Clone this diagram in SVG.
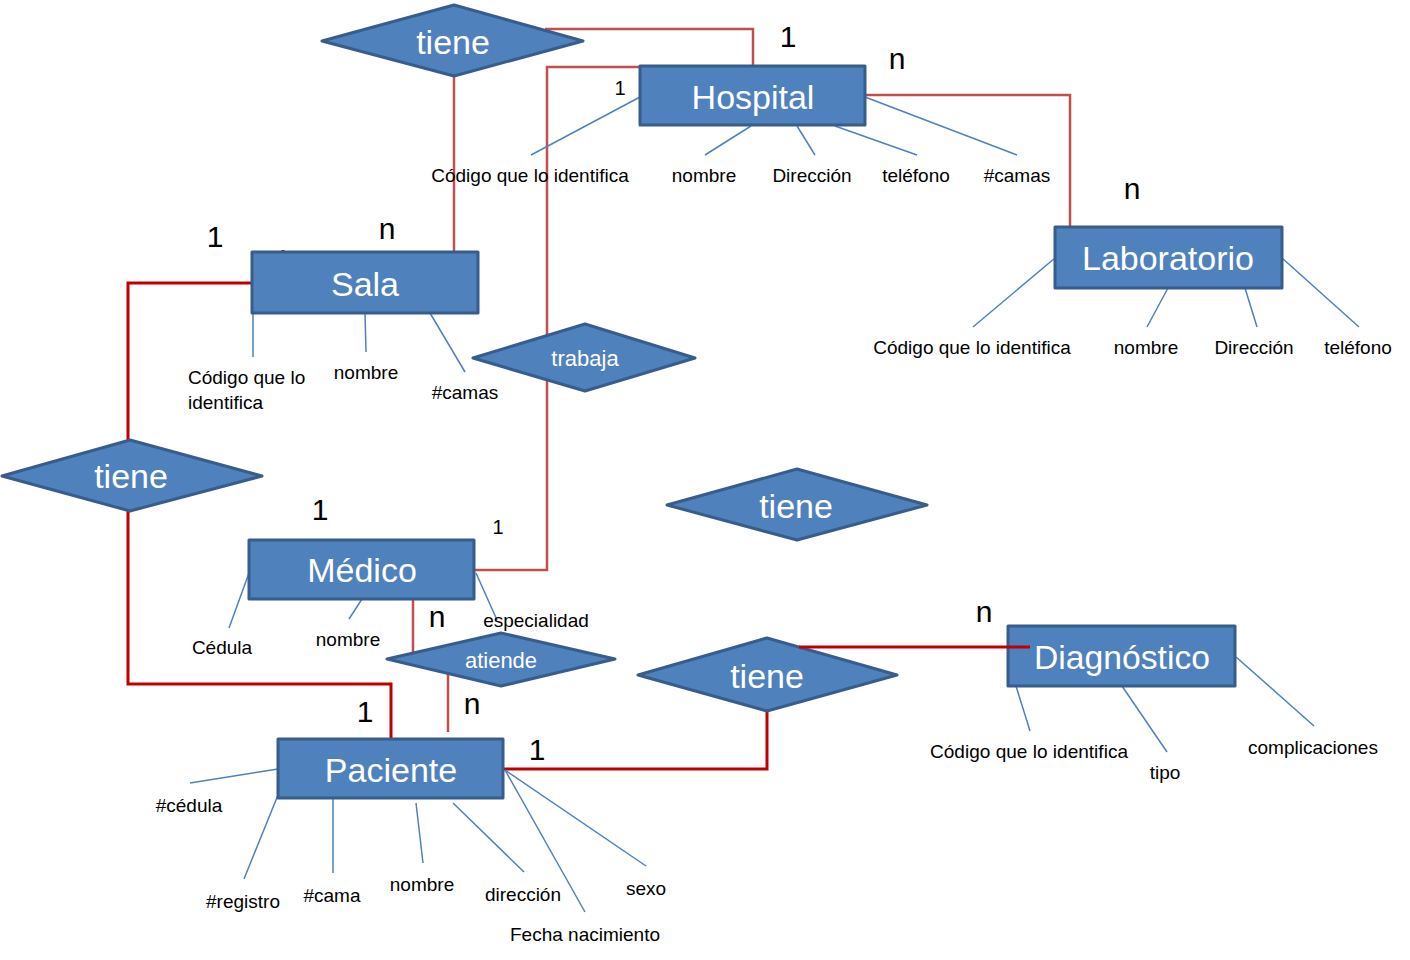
<svg xmlns="http://www.w3.org/2000/svg" width="1410" height="960" viewBox="0 0 1410 960">
<style>
text{font-family:"Liberation Sans",Arial,sans-serif}
.ent rect,.rel polygon{fill:#4F81BD;stroke:#385D8A;stroke-width:3;stroke-linejoin:round}
.lbl{fill:#fff;text-anchor:middle;dominant-baseline:central}
.big{font-size:34px}
.mid{font-size:22px}
.attr line{stroke:#4F81BD;stroke-width:1.5}
.attr text{font-size:19px;fill:#000;text-anchor:middle}
.rl{stroke:#C0504D;stroke-width:2.5;fill:none}
.dr{stroke:#C00000;stroke-width:3;fill:none}
.card{font-size:30px;fill:#000;text-anchor:middle}
.cs{font-size:20px;fill:#000;text-anchor:middle}
</style>
<rect width="1410" height="960" fill="#fff"/>
<g id="connectors">
<polyline class="rl" points="545,29 753,29 753,66"/>
<line class="rl" x1="454" y1="76" x2="454" y2="252"/>
<polyline class="rl" points="640,67 547,67 547,570 475,570"/>
<polyline class="rl" points="865,95 1070,95 1070,227"/>
<polyline class="dr" points="252,283 128,283 128,440"/>
<line class="dr" x1="283" y1="250" x2="283" y2="253"/>
<polyline class="dr" points="128,511 128,684 391,684 391,739"/>
<line class="rl" x1="413" y1="599" x2="413" y2="656"/>
<line class="rl" x1="448" y1="670" x2="448" y2="732"/>
<polyline class="dr" points="503,769 767,769 767,711"/>
</g>
<g id="attributes" class="attr">
<line x1="640" y1="97" x2="531" y2="155"/><text x="530" y="182">Código que lo identifica</text>
<line x1="751" y1="126" x2="705" y2="155"/><text x="704" y="182">nombre</text>
<line x1="797" y1="126" x2="815" y2="155"/><text x="812" y="182">Dirección</text>
<line x1="835" y1="126" x2="917" y2="155"/><text x="916" y="182">teléfono</text>
<line x1="865" y1="97" x2="1017" y2="155"/><text x="1017" y="182">#camas</text>
<line x1="1055" y1="258" x2="973" y2="327"/><text x="972" y="354">Código que lo identifica</text>
<line x1="1168" y1="288" x2="1147" y2="327"/><text x="1146" y="354">nombre</text>
<line x1="1245" y1="288" x2="1257" y2="327"/><text x="1254" y="354">Dirección</text>
<line x1="1282" y1="258" x2="1359" y2="327"/><text x="1358" y="354">teléfono</text>
<line x1="253" y1="313" x2="253" y2="357"/><text x="188" y="384" style="text-anchor:start">Código que lo</text><text x="188" y="409" style="text-anchor:start">identifica</text>
<line x1="365" y1="313" x2="366" y2="352"/><text x="366" y="379">nombre</text>
<line x1="430" y1="313" x2="465" y2="372"/><text x="465" y="399">#camas</text>
<line x1="249" y1="573" x2="229" y2="628"/><text x="222" y="654">Cédula</text>
<line x1="362" y1="599" x2="349" y2="619"/><text x="348" y="646">nombre</text>
<line x1="476" y1="573" x2="497" y2="620"/><text x="536" y="627">especialidad</text>
<line x1="278" y1="769" x2="190" y2="783"/><text x="189" y="812">#cédula</text>
<line x1="278" y1="795" x2="244" y2="879"/><text x="243" y="908">#registro</text>
<line x1="333" y1="799" x2="333" y2="873"/><text x="332" y="902">#cama</text>
<line x1="416" y1="803" x2="423" y2="863"/><text x="422" y="891">nombre</text>
<line x1="453" y1="803" x2="524" y2="872"/><text x="523" y="901">dirección</text>
<line x1="505" y1="770" x2="585" y2="912"/><text x="585" y="941">Fecha nacimiento</text>
<line x1="505" y1="770" x2="646" y2="866"/><text x="646" y="895">sexo</text>
<line x1="1016" y1="686" x2="1030" y2="731"/><text x="1029" y="758" textLength="198" lengthAdjust="spacingAndGlyphs">Código que lo identifica</text>
<line x1="1122" y1="686" x2="1167" y2="752"/><text x="1165" y="779">tipo</text>
<line x1="1236" y1="657" x2="1314" y2="726"/><text x="1313" y="754">complicaciones</text>
</g>
<g id="rel-tiene-top" class="rel"><polygon points="322,41 454,5 583,41 454,76"/><text class="lbl big" x="453" y="42">tiene</text></g>
<g id="rel-tiene-left" class="rel"><polygon points="2,476 130,440 262,476 130,511"/><text class="lbl big" x="131" y="476">tiene</text></g>
<g id="rel-trabaja" class="rel"><polygon points="473,358 585,324 695,358 585,391"/><text class="lbl mid" x="585" y="358">trabaja</text></g>
<g id="rel-tiene-mid" class="rel"><polygon points="667,505 797,469 927,505 797,540"/><text class="lbl big" x="796" y="506">tiene</text></g>
<g id="rel-atiende" class="rel"><polygon points="387,659 501,633 615,659 501,686"/><text class="lbl mid" x="501" y="660">atiende</text></g>
<g id="rel-tiene-bottom" class="rel"><polygon points="638,675 767,638 897,675 767,711"/><text class="lbl big" x="767" y="676">tiene</text></g>
<g id="ent-hospital" class="ent"><rect x="640" y="66" width="225" height="59"/><text class="lbl big" x="753" y="97">Hospital</text></g>
<g id="ent-laboratorio" class="ent"><rect x="1055" y="227" width="227" height="61"/><text class="lbl big" x="1168" y="258">Laboratorio</text></g>
<g id="ent-sala" class="ent"><rect x="252" y="252" width="226" height="61"/><text class="lbl big" x="365" y="284">Sala</text></g>
<g id="ent-medico" class="ent"><rect x="249" y="540" width="225" height="59"/><text class="lbl big" x="362" y="570">Médico</text></g>
<g id="ent-paciente" class="ent"><rect x="278" y="739" width="225" height="59"/><text class="lbl big" x="391" y="770">Paciente</text></g>
<g id="ent-diagnostico" class="ent"><rect x="1008" y="626" width="227" height="60"/><text class="lbl big" x="1122" y="657" textLength="176" lengthAdjust="spacingAndGlyphs">Diagnóstico</text></g>
<g id="connector-diag"><line class="dr" x1="799" y1="647" x2="1030" y2="647"/></g>
<g id="cardinalities">
<text class="card" x="788" y="47">1</text>
<text class="card" x="897" y="69">n</text>
<text class="cs" x="620" y="95">1</text>
<text class="card" x="1132" y="199">n</text>
<text class="card" x="215" y="247">1</text>
<text class="card" x="387" y="239">n</text>
<text class="card" x="320" y="520">1</text>
<text class="cs" x="498" y="534">1</text>
<text class="card" x="437" y="627">n</text>
<text class="card" x="472" y="714">n</text>
<text class="card" x="365" y="722">1</text>
<text class="card" x="537" y="760">1</text>
<text class="card" x="984" y="622">n</text>
</g>
</svg>
